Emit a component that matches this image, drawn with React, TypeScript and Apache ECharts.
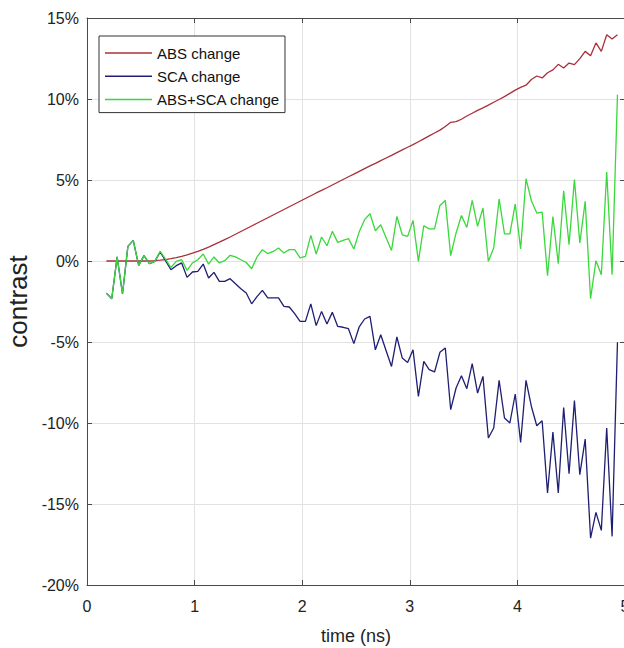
import React, { useEffect, useRef } from "react";
import * as echarts from "echarts";

const TIME = [
  0.18, 0.23, 0.28, 0.33, 0.38, 0.43, 0.48, 0.53, 0.58, 0.63,
  0.68, 0.73, 0.78, 0.83, 0.88, 0.93, 0.98, 1.03, 1.08, 1.13,
  1.18, 1.23, 1.28, 1.33, 1.38, 1.43, 1.48, 1.53, 1.58, 1.63,
  1.68, 1.73, 1.78, 1.83, 1.88, 1.93, 1.98, 2.03, 2.08, 2.13,
  2.18, 2.23, 2.28, 2.33, 2.38, 2.43, 2.48, 2.53, 2.58, 2.63,
  2.68, 2.73, 2.78, 2.83, 2.88, 2.93, 2.98, 3.03, 3.08, 3.13,
  3.18, 3.23, 3.28, 3.33, 3.38, 3.43, 3.48, 3.53, 3.58, 3.63,
  3.68, 3.73, 3.78, 3.83, 3.88, 3.93, 3.98, 4.03, 4.08, 4.13,
  4.18, 4.23, 4.28, 4.33, 4.38, 4.43, 4.48, 4.53, 4.58, 4.63,
  4.68, 4.73, 4.78, 4.83, 4.88, 4.93,
];

const ABS_CHANGE = [
  0, 0, 0, 0, 0, 0, 0, 0, 0, 0.02,
  0.05, 0.09, 0.14, 0.21, 0.29, 0.38, 0.48, 0.59, 0.72, 0.86,
  1.01, 1.16, 1.32, 1.48, 1.65, 1.82, 1.99, 2.16, 2.33, 2.5,
  2.67, 2.84, 3.01, 3.18, 3.35, 3.52, 3.69, 3.86, 4.03, 4.2,
  4.36, 4.52, 4.69, 4.86, 5.03, 5.2, 5.36, 5.53, 5.7, 5.87,
  6.03, 6.2, 6.36, 6.52, 6.69, 6.86, 7.02, 7.18, 7.36, 7.54,
  7.72, 7.9, 8.08, 8.3, 8.56, 8.6, 8.75, 8.95, 9.12, 9.3,
  9.45, 9.62, 9.8, 9.97, 10.15, 10.35, 10.55, 10.72, 10.85, 11.2,
  11.42, 11.3, 11.62, 11.8, 12.14, 11.91, 12.22, 12.12, 12.49, 12.94,
  12.67, 13.46, 12.94, 13.97, 13.7, 13.97,
];

const SCA_CHANGE = [
  -1.98, -2.33, 0.25, -2.02, 0.9, 1.27, -0.27, 0.33, -0.17, -0.02,
  0.56, 0.02, -0.54, -0.29, -0.12, -1.01, -0.68, -0.64, -0.19, -1.05,
  -0.7, -1.26, -1.26, -1.09, -1.4, -1.71, -1.98, -2.64, -2.2, -1.81,
  -2.28, -2.28, -2.28, -2.8, -2.84, -3.25, -3.73, -3.73, -2.65, -3.99,
  -3.11, -3.89, -3.17, -4.04, -4.09, -4.18, -5.1, -4.06, -3.58, -3.42,
  -5.48, -4.55, -5.54, -6.51, -4.69, -5.99, -6.26, -5.48, -8.36, -6.2,
  -6.71, -6.85, -5.64, -5.37, -9.18, -7.84, -7.08, -7.88, -6.34, -8.15,
  -7.12, -10.93, -10.31, -7.37, -9.69, -10.0, -8.21, -11.2, -7.37, -8.98,
  -10.17, -9.86, -14.32, -10.56, -14.32, -9.04, -13.13, -8.62, -13.19, -10.99,
  -17.1, -15.52, -16.63, -10.31, -17.0, -5.02,
];

const ABS_SCA_CHANGE = [
  -1.98, -2.33, 0.25, -2.02, 0.9, 1.27, -0.27, 0.33, -0.17, -0.02,
  0.59, 0.12, -0.4, -0.02, 0.08, -0.58, -0.12, 0.08, 0.43, -0.19,
  0.25, -0.12, 0.02, 0.35, 0.25, 0.08, -0.09, -0.48, 0.25, 0.7,
  0.45, 0.59, 0.8, 0.49, 0.7, 0.7, 0.19, 0.28, 1.58, 0.43,
  1.48, 0.94, 1.83, 1.15, 1.27, 1.38, 0.74, 1.8, 2.55, 2.92,
  1.87, 2.24, 1.44, 0.65, 2.75, 1.62, 1.52, 2.51, -0.02, 2.18,
  1.98, 1.98, 3.43, 3.74, 0.33, 1.73, 2.81, 2.07, 3.74, 2.14,
  3.27, -0.02, 0.8, 3.83, 1.67, 1.67, 3.52, 0.74, 5.08, 3.72,
  2.96, 3.02, -0.91, 2.75, -0.17, 4.34, 1.01, 5.02, 1.11, 3.68,
  -2.33, 0.02, -0.85, 5.49, -0.85, 10.27,
];

const SERIES_NAMES = ["ABS change", "SCA change", "ABS+SCA change"];
const SERIES_COLORS = ["#a8303a", "#1e1e72", "#3ad83a"];

export default function App() {
  const ref = useRef<HTMLDivElement>(null);

  useEffect(() => {
    if (!ref.current) return;
    const chart = echarts.init(ref.current, null, { renderer: "svg" });
    const font = "'Liberation Sans', Arial, Helvetica, sans-serif";
    const axisColor = "#4a4a4a";
    const gridColor = "#e2e2e2";
    const textColor = "#222";
    const pair = (ys: number[]) => TIME.map((t, i) => [t, ys[i]]);
    const allData = [ABS_CHANGE, SCA_CHANGE, ABS_SCA_CHANGE];

    chart.setOption({
      animation: false,
      backgroundColor: "#ffffff",
      textStyle: { fontFamily: font },
      grid: {
        left: 87,
        top: 18,
        width: 538,
        height: 567,
        containLabel: false,
        outerBoundsMode: "none",
      },
      legend: {
        left: 99,
        top: 36,
        orient: "vertical",
        data: SERIES_NAMES,
        icon: "rect",
        itemWidth: 47,
        itemHeight: 1.5,
        itemGap: 5.3,
        padding: [8, 5, 4, 6],
        borderColor: "#333",
        borderWidth: 1,
        backgroundColor: "#ffffff",
        textStyle: { fontSize: 15, color: "#111", lineHeight: 18, fontFamily: font },
      },
      xAxis: [
        {
          type: "value",
          min: 0,
          max: 5,
          interval: 1,
          position: "bottom",
          name: "time (ns)",
          nameLocation: "middle",
          nameGap: 42,
          nameTextStyle: { fontSize: 18, color: textColor, fontFamily: font },
          axisLine: { show: true, onZero: false, lineStyle: { color: axisColor, width: 1 } },
          axisTick: { show: true, inside: true, length: 5, lineStyle: { color: axisColor } },
          axisLabel: { fontSize: 16, color: textColor, margin: 13, fontFamily: font },
          splitLine: { show: true, lineStyle: { color: gridColor, width: 1 } },
        },
        {
          type: "value",
          min: 0,
          max: 5,
          interval: 1,
          position: "top",
          axisLine: { show: true, onZero: false, lineStyle: { color: axisColor, width: 1 } },
          axisTick: { show: true, inside: true, length: 5, lineStyle: { color: axisColor } },
          axisLabel: { show: false },
          splitLine: { show: false },
        },
      ],
      yAxis: [
        {
          type: "value",
          min: -20,
          max: 15,
          interval: 5,
          position: "left",
          name: "contrast",
          nameLocation: "middle",
          nameGap: 50,
          nameTextStyle: { fontSize: 26, color: textColor, fontFamily: font },
          axisLine: { show: true, onZero: false, lineStyle: { color: axisColor, width: 1 } },
          axisTick: { show: true, inside: true, length: 5, lineStyle: { color: axisColor } },
          axisLabel: {
            fontSize: 16,
            color: textColor,
            margin: 8,
            padding: [6, 0, 0, 0],
            fontFamily: font,
            formatter: "{value}%",
          },
          splitLine: { show: true, lineStyle: { color: gridColor, width: 1 } },
        },
        {
          type: "value",
          min: -20,
          max: 15,
          interval: 5,
          position: "right",
          axisLine: { show: true, onZero: false, lineStyle: { color: axisColor, width: 1 } },
          axisTick: { show: true, inside: true, length: 5, lineStyle: { color: axisColor } },
          axisLabel: { show: false },
          splitLine: { show: false },
        },
      ],
      series: SERIES_NAMES.map((name, k) => ({
        name,
        type: "line",
        xAxisIndex: 0,
        yAxisIndex: 0,
        data: pair(allData[k]),
        showSymbol: false,
        symbol: "none",
        color: SERIES_COLORS[k],
        lineStyle: { color: SERIES_COLORS[k], width: 1.3 },
        z: 2 + k,
      })),
    });

    return () => chart.dispose();
  }, []);

  return (
    <div
      ref={ref}
      style={{ position: "absolute", left: 0, top: 0, width: 624, height: 648, overflow: "hidden" }}
    />
  );
}
